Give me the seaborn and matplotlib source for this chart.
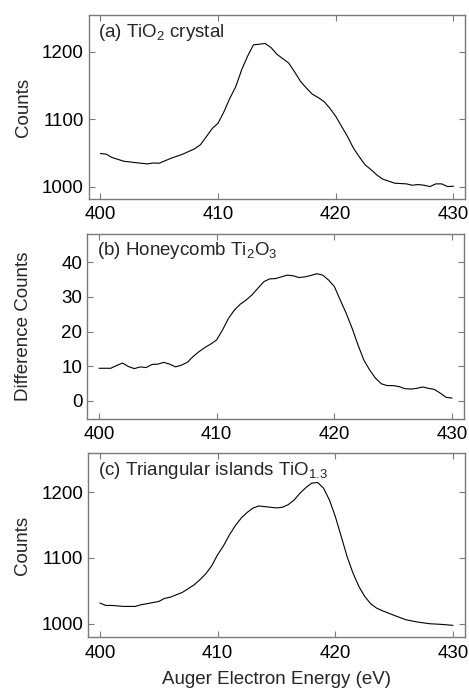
import numpy as np
import pandas as pd
import seaborn as sns
from matplotlib import pyplot as plt

#%% Data (energy in eV)

# (a) TiO2 crystal
energy_a = [400, 400.5, 401, 402, 403, 404, 404.5, 405, 406, 407, 408, 408.5, 409, 409.5,
            410, 410.5, 411, 411.5, 412, 412.5, 413, 413.5, 414, 414.5, 415, 416, 416.5,
            417, 417.5, 418, 418.5, 419, 419.5, 420, 420.5, 421, 421.5, 422, 422.5, 423,
            423.5, 424, 424.5, 425, 426, 426.5, 427, 427.5, 428, 428.5, 429, 429.5, 430]
counts_a = [1049, 1048, 1043, 1037.5, 1035.5, 1033.6, 1035, 1034.6, 1042, 1048, 1056, 1062,
            1074, 1086, 1094, 1111, 1131, 1148, 1173, 1193, 1210, 1211, 1212, 1206, 1196,
            1183, 1170, 1156, 1146, 1137, 1132, 1126, 1116, 1104, 1089, 1074, 1057, 1044,
            1032, 1025, 1017, 1011, 1008, 1005, 1004, 1002, 1003, 1002, 1000, 1004, 1004,
            1000, 1000.5]

# (b) Honeycomb Ti2O3 (difference)
energy_b = [400, 401, 401.5, 402, 402.5, 403, 403.5, 404, 404.5, 405, 405.5, 406, 406.5,
            407, 407.5, 408, 408.5, 409, 409.5, 410, 410.5, 411, 411.5, 412, 412.5, 413,
            413.5, 414, 414.5, 415, 415.5, 416, 416.5, 417, 417.5, 418, 418.5, 419, 419.5,
            420, 420.5, 421, 421.5, 422, 422.5, 423, 423.5, 424, 424.5, 425, 425.5, 426,
            426.5, 427, 427.5, 428, 428.5, 429, 429.5, 430]
counts_b = [9.4, 9.4, 10.2, 10.9, 9.9, 9.3, 9.8, 9.6, 10.5, 10.6, 11.1, 10.6, 9.8, 10.3,
            11.1, 12.8, 14.2, 15.4, 16.4, 17.6, 20.5, 23.8, 26.2, 27.9, 29.1, 30.6, 32.5,
            34.4, 35.2, 35.3, 35.8, 36.3, 36.1, 35.6, 35.8, 36.2, 36.7, 36.3, 34.9, 33.0,
            29.1, 25.3, 21.0, 16.2, 11.8, 8.9, 6.5, 4.9, 4.4, 4.4, 4.1, 3.5, 3.4, 3.6, 4.0,
            3.6, 3.3, 2.2, 1.0, 0.8]

# (c) Triangular islands TiO1.3
energy_c = [400, 400.5, 401, 402, 403, 403.5, 404, 405, 405.5, 406, 407, 408, 408.5, 409,
            409.5, 410, 410.5, 411, 411.5, 412, 412.5, 413, 413.5, 414, 414.5, 415, 415.5,
            416, 416.5, 417, 417.5, 418, 418.5, 419, 419.5, 420, 420.5, 421, 421.5, 422,
            422.5, 423, 423.5, 424, 425, 426, 427, 428, 429, 430]
counts_c = [1031.4, 1027.8, 1027.8, 1026.3, 1026.3, 1028.9, 1030.4, 1033.9, 1038.5, 1040.5,
            1047.6, 1059, 1067, 1076, 1088, 1105, 1118.5, 1135, 1149, 1160.5, 1169, 1175.7,
            1179, 1178, 1177, 1176, 1177, 1181, 1188, 1198.5, 1207, 1213.7, 1214.7, 1206,
            1188, 1163, 1132.7, 1102, 1077, 1056.7, 1041.5, 1030.4, 1023.8, 1019.7, 1012.7,
            1006, 1002.5, 1000, 999, 997.5]

labels = [r"(a) TiO$_\mathregular{2}$ crystal",
          r"(b) Honeycomb Ti$_\mathregular{2}$O$_\mathregular{3}$",
          r"(c) Triangular islands TiO$_\mathregular{1.3}$"]
ylabels = ["Counts", "Difference Counts", "Counts"]
yticks = [[1000, 1100, 1200], [0, 10, 20, 30, 40], [1000, 1100, 1200]]
ylims = [(982, 1254), (-5.2, 48.2), (980, 1259)]
xticks = [400, 410, 420, 430]

#%% Style
sns.set_theme(style="ticks")
plt.rcParams["font.family"] = ["Liberation Sans", "DejaVu Sans"]
plt.rcParams["mathtext.fontset"] = "custom"
plt.rcParams["mathtext.rm"] = "Liberation Sans"
frame = "#7a7a7a"
fs = 13.5

fig = plt.figure(figsize=(4.69, 6.90), dpi=100)
boxes = [[0.189, 0.712, 0.803, 0.266],
         [0.186, 0.393, 0.803, 0.268],
         [0.188, 0.077, 0.803, 0.266]]

datasets = [(energy_a, counts_a), (energy_b, counts_b), (energy_c, counts_c)]

for i, (ex, cy) in enumerate(datasets):
    ax = fig.add_axes(boxes[i])
    df = pd.DataFrame({"Energy": ex, "Counts": cy})
    sns.lineplot(data=df, x="Energy", y="Counts", ax=ax, color="black", linewidth=0.8)
    ax.set_xlim(399, 431)
    ax.set_ylim(*ylims[i])
    ax.set_xticks(xticks)
    ax.set_yticks(yticks[i])
    ax.tick_params(direction="in", top=True, right=True, length=4, width=0.8,
                   color=frame, labelsize=fs, labelcolor="black", pad=3.5)
    ax.tick_params(axis="x", pad=5.5)
    for s in ax.spines.values():
        s.set_color(frame)
        s.set_linewidth(1.0)
    ax.set_ylabel(ylabels[i], fontsize=fs)
    # right edge of the rotated label sits at about x=32 px in the figure
    ax.yaxis.set_label_coords(-0.151 if i != 1 else -0.146, 0.5)
    ax.set_xlabel("")
    ax.text(0.025, 0.965, labels[i], transform=ax.transAxes, ha="left", va="top",
            fontsize=fs)
    if i == 2:
        ax.set_xlabel("Auger Electron Energy (eV)", fontsize=fs, labelpad=7)

fig.savefig("out.png", dpi=100)
